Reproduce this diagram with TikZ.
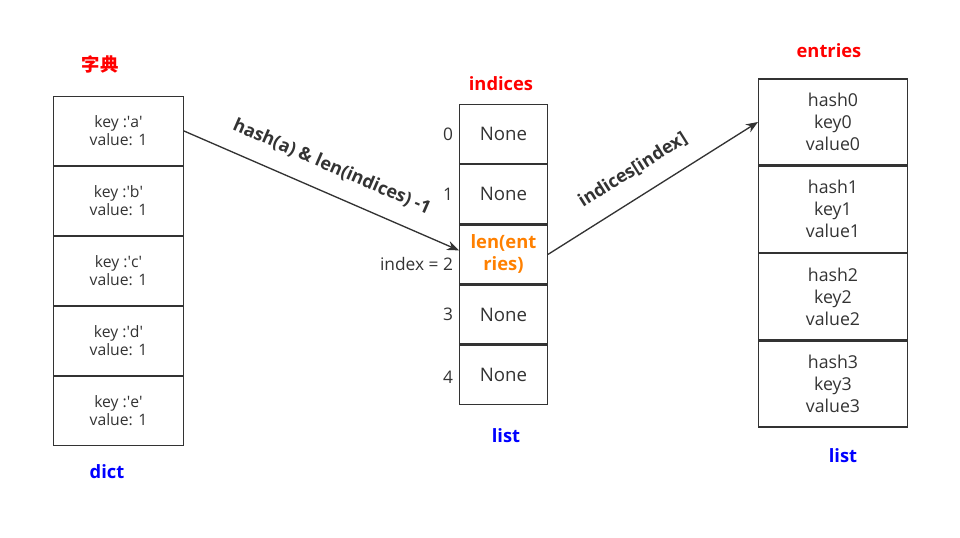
\documentclass[tikz,border=0pt]{standalone}
\usepackage{fontspec}
\setmainfont{Open Sans}
\newfontfamily\cjkfont{Noto Sans CJK SC}
\usetikzlibrary{positioning, arrows.meta}

\definecolor{linegray}{HTML}{333333}
\definecolor{textgray}{HTML}{333333}
\definecolor{keyorange}{HTML}{FF8000}
\newcommand{\sq}{\textquotesingle}

\begin{document}
\begin{tikzpicture}[
    x=0.75pt, y=-0.75pt,
    node distance=0pt,
    every node/.style={text=textgray, align=center},
    cell/.style={draw=linegray, line width=1pt, inner sep=0pt},
    dictcell/.style={cell, minimum width=97.25pt, minimum height=51.5pt, font=\fontsize{11.8}{13.5}\selectfont},
    idxcell/.style={cell, minimum width=65.75pt, minimum height=44.15pt, font=\fontsize{14}{16.5}\selectfont},
    entcell/.style={cell, minimum width=111.5pt, minimum height=64.5pt, font=\fontsize{13.3}{16.5}\selectfont},
    hit/.style={text=keyorange, font=\bfseries\fontsize{13.8}{16.5}\selectfont},
    title/.style={text=red, font=\bfseries\fontsize{13.75}{16}\selectfont},
    kind/.style={text=blue, font=\bfseries\fontsize{13.75}{16}\selectfont},
    idx/.style={font=\fontsize{13}{15}\selectfont},
    arr/.style={draw=linegray, line width=1pt, -{Stealth[length=9pt, width=7pt]}},
    arrlabel/.style={font=\bfseries\fontsize{13.5}{15}\selectfont, sloped, above=9.5pt}
]
    \useasboundingbox (0,0) rectangle (960,538);

    % dict
    \node[title] (dtitle) at (100,64) {\cjkfont\bfseries 字典};
    \node[dictcell] (da) at (118.5,131) {key :\sq a\sq\\value: 1};
    \node[dictcell, below=of da] (db) {key :\sq b\sq\\value: 1};
    \node[dictcell, below=of db] (dc) {key :\sq c\sq\\value: 1};
    \node[dictcell, below=of dc] (dd) {key :\sq d\sq\\value: 1};
    \node[dictcell, below=of dd] (de) {key :\sq e\sq\\value: 1};
    \node[kind] (dkind) at (107,472) {dict};

    % indices
    \node[title] (ititle) at (501,84) {indices};
    \node[idxcell] (i0) at (503.5,134) {None};
    \node[idxcell, below=of i0] (i1) {None};
    \node[idxcell, below=of i1, hit] (i2) {len(ent\\ries)};
    \node[idxcell, below=of i2] (i3) {None};
    \node[idxcell, below=of i3] (i4) {None};
    \node[kind] (ikind) at (506,436) {list};

    \node[idx, left=1pt of i0] (n0) {0};
    \node[idx, left=1pt of i1] (n1) {1};
    \node[idx, left=1pt of i2, yshift=-7pt] (n2) {index = 2};
    \node[idx, left=1pt of i3] (n3) {3};
    \node[idx, left=1pt of i4, yshift=-2pt] (n4) {4};

    % entries
    \node[title] (etitle) at (829,51) {entries};
    \node[entcell] (e0) at (833,122) {hash0\\key0\\value0};
    \node[entcell, below=of e0] (e1) {hash1\\key1\\value1};
    \node[entcell, below=of e1] (e2) {hash2\\key2\\value2};
    \node[entcell, below=of e2] (e3) {hash3\\key3\\value3};
    \node[kind] (ekind) at (843,456) {list};

    \draw[arr] (da.east) -- node[arrlabel] {hash(a) \& len(indices) -1} ([yshift=3pt]i2.west);
    \draw[arr] (i2.east) -- node[arrlabel, pos=0.47] {indices[index]} (e0.west);
\end{tikzpicture}
\end{document}
